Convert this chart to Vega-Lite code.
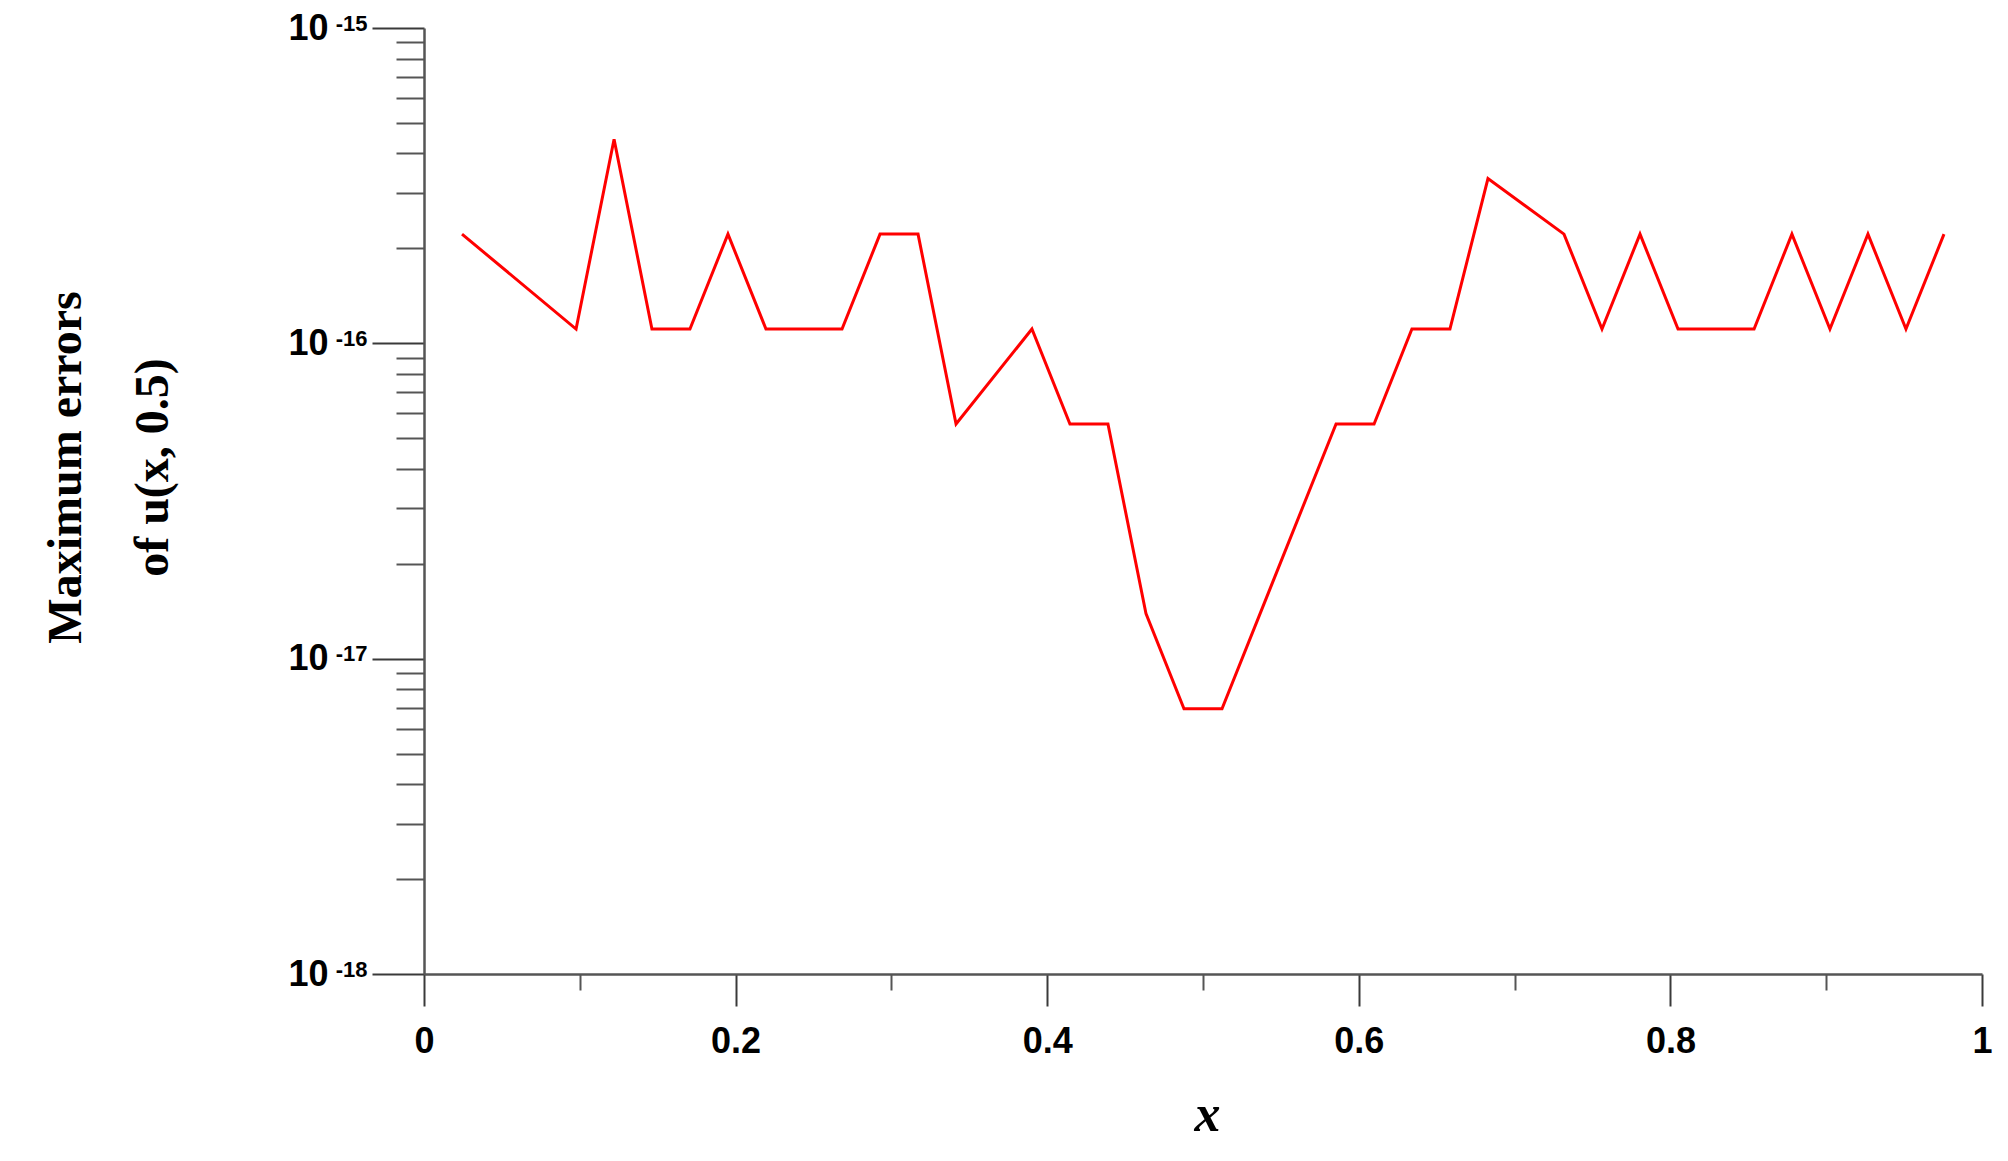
{
  "$schema": "https://vega.github.io/schema/vega-lite/v6.json",
  "width": 1558,
  "height": 946,
  "autosize": {"type": "none"},
  "padding": {"left": 424, "top": 28, "right": 26, "bottom": 187},
  "background": "white",
  "config": {"view": {"stroke": null}, "axis": {"grid": false}},
  "data": {
    "values": [
      {"x": 0.0244, "err": 2.22e-16},
      {"x": 0.0976, "err": 1.11e-16},
      {"x": 0.1220, "err": 4.44e-16},
      {"x": 0.1463, "err": 1.11e-16},
      {"x": 0.1707, "err": 1.11e-16},
      {"x": 0.1951, "err": 2.22e-16},
      {"x": 0.2195, "err": 1.11e-16},
      {"x": 0.2683, "err": 1.11e-16},
      {"x": 0.2927, "err": 2.22e-16},
      {"x": 0.3171, "err": 2.22e-16},
      {"x": 0.3415, "err": 5.55e-17},
      {"x": 0.3902, "err": 1.11e-16},
      {"x": 0.4146, "err": 5.55e-17},
      {"x": 0.4390, "err": 5.55e-17},
      {"x": 0.4634, "err": 1.39e-17},
      {"x": 0.4878, "err": 6.94e-18},
      {"x": 0.5122, "err": 6.94e-18},
      {"x": 0.5854, "err": 5.55e-17},
      {"x": 0.6098, "err": 5.55e-17},
      {"x": 0.6341, "err": 1.11e-16},
      {"x": 0.6585, "err": 1.11e-16},
      {"x": 0.6829, "err": 3.33e-16},
      {"x": 0.7317, "err": 2.22e-16},
      {"x": 0.7561, "err": 1.11e-16},
      {"x": 0.7805, "err": 2.22e-16},
      {"x": 0.8049, "err": 1.11e-16},
      {"x": 0.8537, "err": 1.11e-16},
      {"x": 0.8780, "err": 2.22e-16},
      {"x": 0.9024, "err": 1.11e-16},
      {"x": 0.9268, "err": 2.22e-16},
      {"x": 0.9512, "err": 1.11e-16},
      {"x": 0.9756, "err": 2.22e-16}
    ]
  },
  "layer": [
    {
      "mark": {"type": "line", "color": "#ff0000", "strokeWidth": 3},
      "encoding": {
        "x": {
          "field": "x", "type": "quantitative",
          "scale": {"domain": [0, 1], "nice": false, "zero": false},
          "axis": {
            "orient": "bottom",
            "values": [0, 0.2, 0.4, 0.6, 0.8, 1],
            "labelExpr": "'' + datum.value",
            "labelFont": "Liberation Sans", "labelFontWeight": "bold", "labelFontSize": 36,
            "labelColor": "#000000", "labelPadding": 18, "labelFlush": false, "labelOverlap": false, "labelBound": false,
            "tickSize": 32, "tickWidth": 2, "tickColor": "#3a3a3a",
            "domainColor": "#555555", "domainWidth": 2.5,
            "title": "x",
            "titleFont": "Liberation Serif", "titleFontStyle": "italic", "titleFontWeight": "bold",
            "titleFontSize": 52, "titleColor": "#000000",
            "titleBaseline": "alphabetic", "titleY": 156, "titleX": 783, "titleAlign": "center"
          }
        },
        "y": {
          "field": "err", "type": "quantitative",
          "scale": {"type": "log", "domain": [1e-18, 1e-15], "nice": false},
          "axis": {
            "orient": "left",
            "values": [1e-18, 1e-17, 1e-16, 1e-15],
            "labelExpr": "'10'",
            "labelFont": "Liberation Sans", "labelFontWeight": "bold", "labelFontSize": 36,
            "labelColor": "#000000", "labelPadding": 44, "labelAlign": "right", "labelBaseline": "middle",
            "labelFlush": false, "labelOverlap": false, "labelBound": false,
            "tickSize": 52, "tickWidth": 2, "tickColor": "#3a3a3a",
            "domainColor": "#555555", "domainWidth": 2.5,
            "title": ["Maximum errors", "of u(x, 0.5)"],
            "titleFont": "Liberation Serif", "titleFontWeight": "bold", "titleFontSize": 48,
            "titleColor": "#000000", "titleLineHeight": 87, "titleAngle": -90,
            "titleAlign": "center", "titleBaseline": "alphabetic",
            "titleX": -344, "titleY": 439
          }
        }
      }
    },
    {
      "mark": {"type": "line", "opacity": 0},
      "encoding": {
        "x": {
          "field": "x", "type": "quantitative",
          "axis": {
            "orient": "bottom",
            "values": [0.1, 0.3, 0.5, 0.7, 0.9],
            "labels": false, "domain": false, "title": null,
            "tickSize": 16, "tickWidth": 2, "tickColor": "#555555"
          }
        },
        "y": {
          "field": "err", "type": "quantitative",
          "axis": {
            "orient": "left",
            "values": [2e-18, 3e-18, 4e-18, 5e-18, 6e-18, 7e-18, 8e-18, 9e-18,
                       2e-17, 3e-17, 4e-17, 5e-17, 6e-17, 7e-17, 8e-17, 9e-17,
                       2e-16, 3e-16, 4e-16, 5e-16, 6e-16, 7e-16, 8e-16, 9e-16],
            "labels": false, "domain": false, "title": null,
            "tickSize": 28, "tickWidth": 2, "tickColor": "#555555"
          }
        }
      }
    },
    {
      "mark": {"type": "line", "opacity": 0},
      "encoding": {
        "x": {"field": "x", "type": "quantitative", "axis": null},
        "y": {
          "field": "err", "type": "quantitative",
          "axis": {
            "orient": "left",
            "values": [1e-18, 1e-17, 1e-16, 1e-15],
            "labelExpr": "'-' + round(-log(datum.value) / LN10)",
            "labelFont": "Liberation Sans", "labelFontWeight": "bold", "labelFontSize": 22,
            "labelColor": "#000000", "labelPadding": 57, "labelAlign": "right", "labelBaseline": "middle",
            "labelOffset": -5, "labelFlush": false, "labelOverlap": false, "labelBound": false,
            "ticks": false, "tickSize": 0, "domain": false, "title": null
          }
        }
      }
    }
  ],
  "resolve": {"axis": {"x": "independent", "y": "independent"}}
}
